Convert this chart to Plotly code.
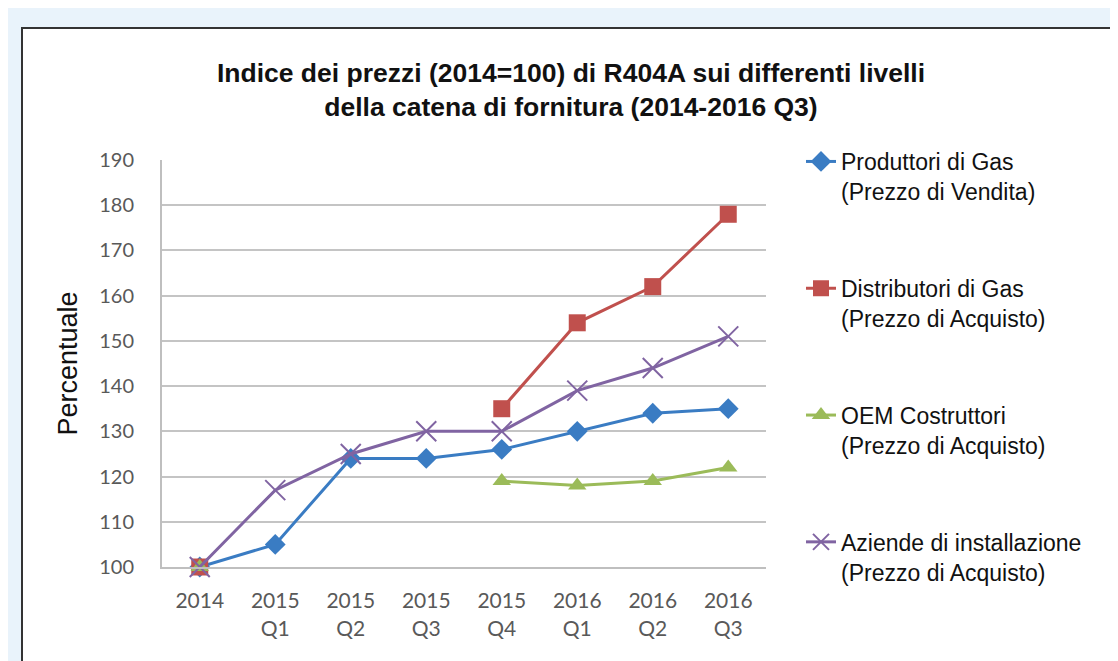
import plotly.graph_objects as go

categories = ["2014", "2015<br>Q1", "2015<br>Q2", "2015<br>Q3", "2015<br>Q4",
              "2016<br>Q1", "2016<br>Q2", "2016<br>Q3"]
produttori = [100, 105, 124, 124, 126, 130, 134, 135]
distributori = [100, None, None, None, 135, 154, 162, 178]
oem = [100, None, None, None, 119, 118, 119, 122]
aziende = [100, 117, 125, 130, 130, 139, 144, 151]
y_ticks = [100, 110, 120, 130, 140, 150, 160, 170, 180, 190]

names = ["Produttori di Gas<br>(Prezzo di Vendita)",
         "Distributori di Gas<br>(Prezzo di Acquisto)",
         "OEM Costruttori<br>(Prezzo di Acquisto)",
         "Aziende di installazione<br>(Prezzo di Acquisto)"]

OFF = 8  # page body margin
W, H = 1118 - OFF, 661 - OFF
# plot area in page pixels: x 162..766, y 160..567
L, T = 162 - OFF, 160 - OFF
pw, ph = 604, 407
R, B = W - L - pw, H - T - ph

def px_x(p):
    return (p - OFF - L) / pw

def px_y(p):
    return (T + ph - (p - OFF)) / ph

fig = go.Figure()
series = [
    (produttori, "#3a7cc3", dict(symbol="diamond", size=16)),
    (distributori, "#c0504d", dict(symbol="square", size=17)),
    (oem, "#9bbb59", dict(symbol="triangle-up", size=16)),
    (aziende, "#8064a2", dict(symbol="x-thin-open", size=20, line=dict(width=2, color="#8064a2"))),
]
for i, (vals, col, mk) in enumerate(series):
    fig.add_trace(go.Scatter(
        x=categories, y=vals, name=names[i], mode="lines+markers",
        line=dict(color=col, width=3), marker=dict(color=col, **mk),
        cliponaxis=False, legendgroup=f"g{i}",
    ))

fig.add_shape(type="rect", xref="paper", yref="paper",
              x0=px_x(22), x1=px_x(1113), y0=px_y(720), y1=px_y(28),
              fillcolor="white", line=dict(color="#333333", width=2), layer="below")

fig.update_layout(
    width=W, height=H,
    margin=dict(l=L, r=R, t=T, b=B),
    paper_bgcolor="#e9f3fb",
    plot_bgcolor="rgba(0,0,0,0)",
    title=dict(text="<b>Indice dei prezzi (2014=100) di R404A sui differenti livelli<br>della catena di fornitura (2014-2016 Q3)</b>",
               x=(571 - OFF) / W, xanchor="center", y=(H - 74) / H, yanchor="middle",
               font=dict(family="Liberation Sans, Arial, sans-serif", size=26.5, color="#111111")),
    font=dict(family="Liberation Sans, Arial, sans-serif"),
    legend=dict(x=px_x(801), y=px_y(140), xanchor="left", yanchor="top",
                valign="top", tracegroupgap=64, bgcolor="rgba(0,0,0,0)", maxheight=620,
                font=dict(family="Liberation Sans, Arial, sans-serif", size=23, color="#111111")),
    showlegend=True,
)
fig.update_xaxes(type="category", range=[-0.5, 7.5], showgrid=False,
                 showline=True, linecolor="#bfbfbf", linewidth=2,
                 ticklabelstandoff=14,
                 tickfont=dict(family="Lato, sans-serif", size=21, color="#595959"),
                 ticks="", fixedrange=True)
fig.update_yaxes(range=[100, 190], tickvals=y_ticks, showgrid=True,
                 gridcolor="#c4c4c4", gridwidth=2, zeroline=False,
                 showline=True, linecolor="#bfbfbf", linewidth=2,
                 ticklabelstandoff=22,
                 tickfont=dict(family="Lato, sans-serif", size=20, color="#595959"),
                 title=dict(text="Percentuale", standoff=14,
                            font=dict(family="Liberation Sans, Arial, sans-serif", size=27, color="#111111")))

fig.write_html("out.html")
